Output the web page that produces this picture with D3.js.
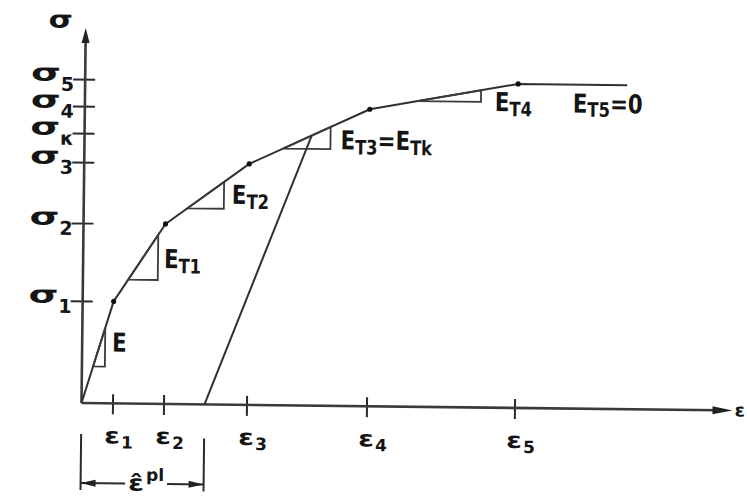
<!DOCTYPE html>
<html>
<head>
<meta charset="utf-8">
<script src="https://cdn.jsdelivr.net/npm/d3@7"></script>
<style>
  html, body { margin: 0; padding: 0; background: #fff; }
  svg { display: block; }
  text { font-family: "DejaVu Sans", sans-serif; font-weight: bold; fill: #151515; }
</style>
</head>
<body>
<svg id="chart" width="747" height="500"></svg>
<script>
// Multilinear stress–strain law with tangent moduli per segment
const strainNames = ["1", "2", "3", "4", "5"];
const strainValues = [0.62, 1.64, 3.3, 5.7, 8.66];
const stressNames = ["1", "2", "3", "4", "5"];
const stressValues = [2.04, 3.6, 4.82, 5.94, 6.48];
const kappaName = "κ";
const kappaStress = 5.4;          // σκ, reached on segment ε3–ε4
const plasticStrain = 2.46;       // ε̂pl, foot of the unloading branch
const strainEnd = 10.84;          // end of the perfectly plastic branch
const moduliNames = [["E", ""], ["E", "T1"], ["E", "T2"], ["E", "T3", "E", "Tk"], ["E", "T4"]];
const lastModulus = ["E", "T5", "0"];

// layout
const W = 747, H = 500;
const strainMax = 13.02, stressMax = 7.5;
const ink = "#2a2a2a";

const svg = d3.select("#chart");
svg.append("rect").attr("width", W).attr("height", H).attr("fill", "#fff");

const g = svg.append("g").attr("transform", "translate(81.5,403) rotate(0.65)");
const x = d3.scaleLinear().domain([0, strainMax]).range([0, 651]);
const y = d3.scaleLinear().domain([0, stressMax]).range([0, -375]);

// text built from parts: [{t, size, sx, dy}]
function compound(parent, parts, px, py, anchor, gsx) {
  gsx = gsx || 1;
  const grp = parent.append("g");
  let cx = 0;
  const widths = [];
  parts.forEach(p => {
    const sx = p.sx || 1;
    const t = grp.append("text").attr("font-size", p.size).text(p.t);
    t.attr("transform", `translate(${cx},${p.dy || 0}) scale(${sx},1)`);
    const w = t.node().getComputedTextLength() * sx;
    widths.push(w);
    cx += w + (p.gap || 0);
  });
  let ox = px;
  if (anchor === "end") ox -= cx * gsx;
  else if (anchor === "middle") ox -= cx * gsx / 2;
  else if (anchor === "first") ox -= widths[0] * gsx / 2;
  grp.attr("transform", `translate(${ox},${py}) scale(${gsx},1)`);
  return { grp, width: cx * gsx, left: ox };
}

// axes
const xAxis = d3.axisBottom(x).tickValues(strainValues).tickFormat("").tickSizeOuter(0);
const xa = g.append("g").call(xAxis);
xa.select(".domain").remove();
xa.selectAll(".tick line").attr("y1", -9).attr("y2", 11).attr("stroke", ink).attr("stroke-width", 2);

const yTicks = stressValues.concat([kappaStress]);
const yAxis = d3.axisLeft(y).tickValues(yTicks).tickFormat("").tickSizeOuter(0);
const ya = g.append("g").call(yAxis);
ya.select(".domain").remove();
ya.selectAll(".tick line").attr("x1", -12).attr("x2", 10).attr("stroke", ink).attr("stroke-width", 2);

g.append("line").attr("x1", 0).attr("y1", 0).attr("x2", x(strainMax) - 14).attr("y2", 0)
  .attr("stroke", "#3a3a3a").attr("stroke-width", 2.6);
g.append("path")
  .attr("d", `M${x(strainMax)},0 L${x(strainMax) - 20},-4 L${x(strainMax) - 20},4 Z`)
  .attr("fill", "#222");
g.append("line").attr("x1", 0).attr("y1", 0).attr("x2", 0).attr("y2", y(stressMax) + 10)
  .attr("stroke", "#3a3a3a").attr("stroke-width", 2.6);
g.append("path")
  .attr("d", `M0,${y(stressMax)} L-4,${y(stressMax) + 15} L4,${y(stressMax) + 15} Z`)
  .attr("fill", "#222");

// axis titles
compound(g, [{ t: "σ", size: 24, sx: 1.3 }], -25, y(stressMax), "middle");
compound(g, [{ t: "ε", size: 18, sx: 1.05 }], x(strainMax) + 2, 6, "start");

// stress tick labels
const stressLabels = stressNames.map((n, i) => ({ n, v: stressValues[i] }))
  .concat([{ n: kappaName, v: kappaStress }]);
stressLabels.forEach(d => {
  compound(g, [
    { t: "σ", size: 24, sx: 1.6 },
    { t: d.n, size: 19, dy: 10 }
  ], -11, y(d.v) + 2, "end");
});

// strain tick labels
strainNames.forEach((n, i) => {
  compound(g, [
    { t: "ε", size: 22, sx: 1.3, gap: 1 },
    { t: n, size: 17, dy: 5 }
  ], x(strainValues[i]), 40, "first");
});

// curve through the segment end points
const pts = [[0, 0]].concat(strainValues.map((e, i) => [e, stressValues[i]]), [[strainEnd, stressValues[4]]]);
const line = d3.line().x(d => x(d[0])).y(d => y(d[1]));
g.append("path").datum(pts).attr("d", line)
  .attr("fill", "none").attr("stroke", "#303030").attr("stroke-width", 2).attr("stroke-linejoin", "round");

g.selectAll("circle.vertex").data(pts.slice(1, 6)).join("circle")
  .attr("class", "vertex")
  .attr("cx", d => x(d[0])).attr("cy", d => y(d[1])).attr("r", 2.6).attr("fill", "#111");

// unloading branch to κ
let kStrain = 0;
for (let i = 0; i < pts.length - 1; i++) {
  const a = pts[i], b = pts[i + 1];
  if (kappaStress >= a[1] && kappaStress <= b[1] && b[1] > a[1]) {
    kStrain = a[0] + (kappaStress - a[1]) / (b[1] - a[1]) * (b[0] - a[0]);
    break;
  }
}
g.append("line")
  .attr("x1", x(plasticStrain)).attr("y1", 0).attr("x2", x(kStrain)).attr("y2", y(kappaStress))
  .attr("stroke", "#303030").attr("stroke-width", 2);

// slope triangles and modulus labels
const triSpans = [[0.36, 0.74], [0.28, 0.86], [0.26, 0.70], [0.28, 0.675], [0.32, 0.75]];
const triLabelOffset = [[7, -15], [6, -12], [8, -5], [10, 0], [14, 9]];
moduliNames.forEach((name, i) => {
  const p0 = pts[i], p1 = pts[i + 1];
  const lerp = t => [x(p0[0] + t * (p1[0] - p0[0])), y(p0[1] + t * (p1[1] - p0[1]))];
  const a = lerp(triSpans[i][0]), b = lerp(triSpans[i][1]);
  g.append("path")
    .attr("d", `M${a[0]},${a[1]} H${b[0]} V${b[1]} Z`)
    .attr("fill", "none").attr("stroke", "#3a3a3a").attr("stroke-width", 1.8);
  const parts = [];
  for (let k = 0; k < name.length; k += 2) {
    if (k > 0) parts.push({ t: "=", size: 26 });
    parts.push({ t: name[k], size: 26 });
    if (name[k + 1]) parts.push({ t: name[k + 1], size: 20, dy: 5 });
  }
  compound(g, parts, b[0] + triLabelOffset[i][0], a[1] + triLabelOffset[i][1], "start", 0.82);
});
compound(g, [
  { t: lastModulus[0], size: 26 },
  { t: lastModulus[1], size: 20, dy: 4 },
  { t: "=", size: 26 },
  { t: lastModulus[2], size: 26 }
], x(strainValues[4]) + 55, y(stressValues[4]) + 28, "start", 0.82);

// plastic strain dimension
const bx0 = 0, bx1 = x(plasticStrain), by = 80;
g.append("line").attr("x1", bx0).attr("y1", 31).attr("x2", bx0).attr("y2", 87)
  .attr("stroke", "#2a2a2a").attr("stroke-width", 2);
g.append("line").attr("x1", bx1).attr("y1", 34).attr("x2", bx1).attr("y2", 87)
  .attr("stroke", "#2a2a2a").attr("stroke-width", 2);
const pl = compound(g, [
  { t: "ε\u0302", size: 22, sx: 1.3, gap: 2 },
  { t: "pl", size: 17, dy: -10 }
], (bx0 + bx1) / 2 + 4, 87, "middle");
g.append("line").attr("x1", bx0).attr("y1", by).attr("x2", pl.left - 3).attr("y2", by)
  .attr("stroke", "#2a2a2a").attr("stroke-width", 2);
g.append("line").attr("x1", pl.left + pl.width + 3).attr("y1", by).attr("x2", bx1).attr("y2", by)
  .attr("stroke", "#2a2a2a").attr("stroke-width", 2);
g.append("path").attr("d", `M${bx0},${by} L${bx0 + 15},${by - 3.5} L${bx0 + 15},${by + 3.5} Z`).attr("fill", "#222");
g.append("path").attr("d", `M${bx1},${by} L${bx1 - 15},${by - 3.5} L${bx1 - 15},${by + 3.5} Z`).attr("fill", "#222");
</script>
</body>
</html>
